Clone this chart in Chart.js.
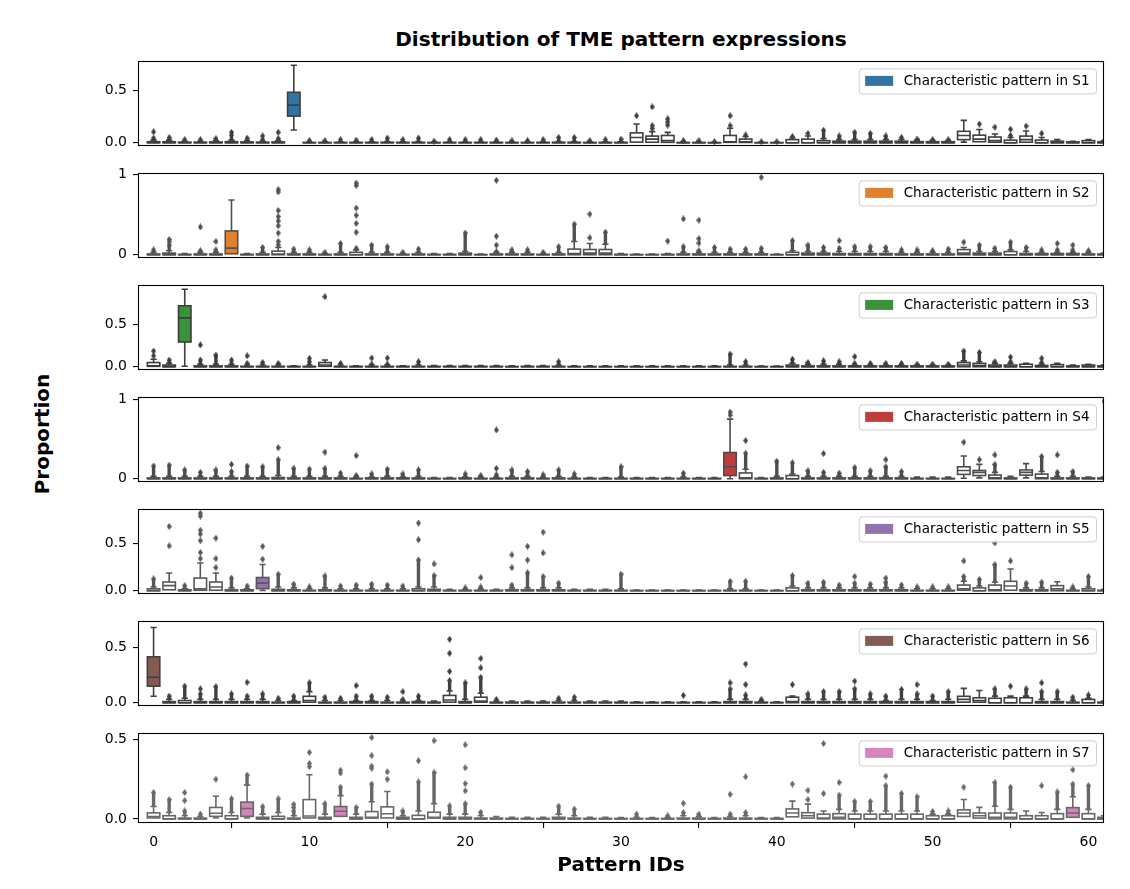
<!DOCTYPE html>
<html>
<head>
<meta charset="utf-8">
<script src="https://cdn.jsdelivr.net/npm/chart.js@4.4.0/dist/chart.umd.min.js"></script>
<style>
  body { margin: 0; background: #fff; }
  #fig { position: relative; width: 1130px; height: 889px; font-family: "DejaVu Sans", sans-serif; color: #000; }
  .panel { position: absolute; left: 0; width: 1130px; }
  #title { position: absolute; left: 0; width: 1242px; top: 27px; text-align: center; font-weight: bold; font-size: 20px; line-height: 24px; }
  #ylab { position: absolute; left: 42px; top: 434px; transform: translate(-50%, -50%) rotate(-90deg); font-weight: bold; font-size: 20px; white-space: nowrap; }
</style>
</head>
<body>
<div id="fig">
  <div id="title">Distribution of TME pattern expressions</div>
  <div id="ylab">Proportion</div>
</div>
<script>
// pattern ids shown on the x axis (the last one sits on the right edge)
const patternIds = Array.from({ length: 62 }, (_, i) => i);
const xTicks = [0, 10, 20, 30, 40, 50, 60];

const sampleNames = ['S1', 'S2', 'S3', 'S4', 'S5', 'S6', 'S7'];
const keyPatterns = [[9], [5], [2], [37], [7], [0], [6, 12, 59]];
const yRanges = [[-0.037, 0.782], [-0.048, 1.011], [-0.046, 0.970], [-0.049, 1.024],
                 [-0.041, 0.861], [-0.035, 0.735], [-0.026, 0.540]];
const yTicks = [[0, 0.5], [0, 1], [0, 0.5], [0, 1], [0, 0.5], [0, 0.5], [0, 0.5]];
const yDecimals = [1, 0, 1, 0, 1, 1, 1];

const fillColors = ['#3274a1', '#e1812c', '#3a923a', '#c03d3e', '#9372b2', '#845b53', '#d684bd'];
const lineColors = ['#3f3f3f', '#515151', '#3d3d3d', '#4c4c4c', '#585858', '#404040', '#686868'];

// ---- S1 ----
const q1S1 = {9: .256, 31: .006, 32: .005, 33: .004, 37: .004, 38: .003, 52: .03, 53: .01, 54: .005, 56: .005};
const medS1 = {9: .362, 31: .05, 32: .035, 33: .02, 37: .01, 38: .01, 52: .07, 53: .035, 54: .02, 56: .03};
const q3S1 = [
  .01,.01,.006,.006,.008,.01,.008,.006,.008,.485,
  .003,.003,.004,.004,.004,.005,.004,.005,.003,.004,
  .004,.004,.004,.003,.003,.004,.005,.005,.003,.004,
  .004,.095,.064,.07,.003,.003,.002,.07,.035,.002,
  .002,.03,.035,.02,.015,.015,.015,.015,.015,.01,
  .01,.01,.11,.073,.055,.025,.064,.026,.015,.008,
  .02,.01];
const hiS1 = [
  .025,.025,.015,.015,.02,.025,.02,.015,.02,.745,
  .008,.008,.01,.01,.01,.012,.01,.012,.006,.01,
  .01,.01,.01,.008,.008,.01,.012,.012,.008,.01,
  .01,.18,.107,.1,.008,.008,.005,.14,.06,.005,
  .005,.045,.065,.04,.03,.03,.03,.03,.03,.025,
  .02,.02,.215,.128,.084,.05,.113,.05,.03,.015,
  .03,.02];
const topS1 = [
  .045,.05,.03,.03,.04,.075,.045,.03,.04,0,
  .02,.02,.03,.025,.03,.045,.03,.045,.015,.03,
  .03,.03,.025,.02,.02,.03,.05,.05,.02,.03,
  .035,0,0,0,.02,.02,.01,0,0,.01,
  .01,.06,0,.12,.065,.1,.09,.065,.05,.035,
  .03,.03,0,0,0,.07,0,0,0,0,
  0,0];
const loS1 = {9: .122, 52: .006};
const outS1 = [[0,.105],[5,.1],[7,.065],[8,.1],[31,.26],[32,.137],[32,.165],[32,.345],[33,.17],[33,.2],
  [33,.23],[37,.165],[37,.26],[38,.075],[42,.09],[53,.18],[54,.15],[55,.13],[56,.16],[57,.09]];

// ---- S2 ----
const q1S2 = {5: .012};
const medS2 = {5: .082, 8: .01, 27: .015, 28: .02, 29: .02, 52: .02};
const q3S2 = [
  .01,.02,.005,.01,.01,.296,.005,.01,.045,.01,
  .01,.005,.01,.03,.01,.01,.005,.01,.005,.005,
  .02,.003,.01,.01,.01,.005,.01,.07,.065,.065,
  .005,.003,.003,.005,.01,.01,.01,.01,.01,.01,
  .003,.03,.02,.02,.015,.015,.015,.015,.01,.01,
  .01,.01,.064,.02,.02,.04,.015,.015,.015,.015,
  .01,.01];
const hiS2 = [
  .03,.05,.015,.03,.03,.68,.015,.03,.09,.03,
  .03,.015,.03,.06,.03,.03,.015,.03,.015,.015,
  .04,.008,.03,.03,.03,.015,.03,.165,.14,.13,
  .015,.008,.008,.015,.03,.03,.03,.03,.03,.03,
  .008,.05,.04,.04,.04,.04,.04,.04,.03,.03,
  .03,.03,.09,.04,.04,.06,.04,.03,.03,.03,
  .03,.02];
const topS2 = [
  .06,.12,0,.05,.06,0,0,.09,0,.07,
  .06,.03,.14,.08,.12,.1,.03,.07,0,0,
  .27,0,.04,.06,.06,.03,.1,.38,0,.28,
  0,0,0,0,.1,.05,.09,.07,.07,.08,
  0,.175,.12,.09,.08,.1,.1,.09,.06,.06,
  .05,.07,0,.12,.08,.157,.09,.06,.06,.06,
  .05,0];
const loS2 = {};
const outS2 = [[1,.16],[1,.19],[3,.345],[4,.165],[8,.12],[8,.165],[8,.27],[8,.36],[8,.42],[8,.475],
  [8,.55],[8,.78],[8,.81],[13,.28],[13,.39],[13,.49],[13,.58],[13,.86],[13,.89],[22,.12],[22,.23],
  [22,.925],[28,.21],[28,.505],[33,.17],[34,.445],[35,.145],[35,.2],[35,.43],[39,.963],[44,.175],
  [52,.157],[58,.14],[59,.12]];

// ---- S3 ----
const q1S3 = {0: .005, 2: .295, 11: .005};
const medS3 = {0: .01, 2: .583, 11: .02, 52: .02, 53: .015};
const q3S3 = [
  .05,.02,.727,.01,.01,.01,.005,.005,.005,.005,
  .005,.05,.005,.005,.005,.005,.005,.005,.005,.005,
  .005,.005,.005,.003,.005,.005,.005,.003,.003,.003,
  .003,.003,.003,.003,.003,.003,.003,.005,.005,.003,
  .003,.02,.01,.01,.01,.01,.01,.01,.01,.01,
  .01,.01,.05,.04,.02,.02,.03,.015,.025,.01,
  .02,.01];
const hiS3 = [
  .09,.04,.924,.03,.03,.03,.02,.02,.02,.01,
  .02,.08,.02,.01,.02,.02,.01,.02,.015,.015,
  .015,.015,.015,.01,.015,.015,.02,.01,.01,.01,
  .01,.01,.01,.01,.01,.01,.01,.02,.02,.008,
  .008,.04,.03,.03,.03,.02,.02,.02,.02,.02,
  .02,.02,.07,.06,.04,.04,.04,.03,.04,.02,
  .03,.02];
const topS3 = [
  0,.08,0,.08,.14,.08,.04,.05,.04,0,
  .06,0,.04,0,.03,.03,0,.06,0,0,
  0,0,0,0,0,0,.06,0,0,0,
  0,0,0,0,0,0,0,.15,.06,0,
  0,.09,.05,.07,.06,.04,.04,.04,.04,.03,
  .03,.03,.187,.17,.06,.06,0,.05,0,0,
  0,0];
const loS3 = {2: .005};
const outS3 = [[0,.13],[0,.187],[3,.26],[6,.13],[10,.1],[11,.835],[14,.104],[15,.104],[45,.12],
  [55,.115],[57,.1]];

// ---- S4 ----
const q1S4 = {37: .04, 52: .054, 53: .04, 56: .045};
const medS4 = {37: .15, 38: .01, 52: .104, 53: .08, 54: .01, 56: .08, 57: .01};
const q3S4 = [
  .01,.01,.01,.01,.01,.01,.01,.01,.015,.01,
  .01,.01,.01,.005,.01,.01,.01,.01,.005,.005,
  .01,.005,.005,.01,.01,.005,.01,.005,.005,.005,
  .005,.005,.005,.005,.005,.005,.005,.33,.073,.005,
  .01,.04,.01,.01,.01,.01,.01,.01,.01,.005,
  .005,.005,.15,.104,.046,.01,.11,.058,.01,.01,
  .01,.01];
const hiS4 = [
  .03,.03,.03,.03,.03,.03,.03,.03,.04,.03,
  .03,.03,.03,.02,.02,.03,.02,.03,.015,.015,
  .02,.02,.02,.03,.03,.02,.03,.02,.015,.015,
  .02,.015,.015,.015,.02,.015,.015,.75,.12,.015,
  .03,.06,.03,.03,.03,.03,.03,.03,.03,.02,
  .02,.02,.286,.18,.08,.03,.19,.09,.03,.03,
  .02,.02];
const topS4 = [
  .16,.17,.11,.08,.11,.09,.16,.15,.24,.13,
  .12,.13,.07,.04,.06,.12,.06,.11,0,0,
  .06,.04,.05,.11,.09,.05,.11,.06,0,0,
  .15,0,0,0,.07,0,0,0,.32,0,
  .22,.2,.1,.08,.07,.14,.1,.15,.09,0,
  0,0,0,0,.18,0,0,.28,.08,.09,
  0,0];
const loS4 = {37: 0, 52: .005, 53: .01, 56: .01};
const outS4 = [[5,.18],[8,.39],[11,.335],[13,.29],[22,.13],[22,.614],[37,.8],[37,.84],[38,.48],
  [43,.317],[47,.24],[52,.46],[53,.24],[54,.3],[58,.3],[61,.975]];

// ---- S5 ----
const q1S5 = {1: .01, 3: .005, 4: .005, 7: .022, 52: .005, 55: .005};
const medS5 = {1: .054, 3: .02, 4: .04, 7: .08, 52: .02, 54: .01, 55: .05, 58: .02};
const q3S5 = [
  .02,.092,.01,.134,.092,.01,.01,.14,.015,.01,
  .005,.01,.005,.005,.005,.005,.005,.02,.015,.005,
  .005,.005,.005,.01,.01,.01,.01,.005,.005,.005,
  .005,.003,.003,.003,.003,.003,.003,.005,.005,.003,
  .003,.03,.01,.01,.01,.01,.01,.01,.01,.005,
  .005,.005,.06,.03,.06,.1,.01,.01,.054,.005,
  .02,.005];
const hiS5 = [
  .04,.188,.02,.293,.188,.03,.02,.277,.04,.03,
  .02,.03,.02,.02,.02,.02,.02,.04,.04,.015,
  .015,.02,.015,.03,.03,.03,.03,.015,.015,.015,
  .02,.008,.008,.008,.008,.008,.008,.02,.02,.008,
  .008,.05,.03,.03,.03,.03,.03,.03,.03,.02,
  .02,.02,.1,.05,.09,.23,.03,.03,.095,.02,
  .04,.015];
const topS5 = [
  .125,0,.054,0,0,.134,.05,0,.175,.07,
  .04,.156,.05,.06,.07,.06,.05,.325,.16,0,
  .03,.04,0,.06,.19,.15,.08,0,0,0,
  .175,0,0,0,0,0,0,.1,.1,0,
  0,.16,.08,.09,.06,.08,.07,.09,.06,.04,
  .04,.04,.15,.12,.277,0,.08,.09,0,.04,
  .15,0];
const loS5 = {7: .002};
const outS5 = [[1,.475],[1,.68],[3,.34],[3,.405],[3,.53],[3,.6],[3,.64],[3,.79],[3,.82],[4,.245],
  [4,.34],[4,.557],[7,.334],[7,.47],[17,.54],[17,.717],[18,.283],[21,.14],[23,.245],[23,.38],
  [24,.325],[24,.47],[25,.4],[25,.62],[45,.15],[47,.134],[52,.315],[54,.506],[55,.315]];

// ---- S6 ----
const q1S6 = {0: .15, 10: .005, 19: .005, 21: .005, 52: .005, 53: .005};
const medS6 = {0: .23, 10: .02, 19: .025, 21: .015, 41: .01, 52: .03, 53: .02};
const q3S6 = [
  .415,.01,.02,.01,.01,.01,.01,.01,.005,.01,
  .058,.005,.005,.01,.01,.005,.005,.01,.005,.066,
  .01,.05,.005,.005,.005,.005,.005,.005,.005,.005,
  .005,.003,.003,.003,.003,.003,.003,.01,.01,.005,
  .003,.05,.01,.01,.01,.01,.01,.01,.01,.01,
  .01,.01,.058,.045,.04,.045,.045,.01,.01,.005,
  .03,.005];
const hiS6 = [
  .68,.03,.04,.03,.03,.03,.03,.03,.02,.02,
  .1,.02,.02,.02,.02,.02,.015,.02,.015,.106,
  .03,.085,.015,.015,.015,.015,.02,.02,.015,.015,
  .015,.008,.008,.008,.008,.008,.008,.03,.03,.015,
  .008,.06,.03,.03,.03,.03,.03,.02,.03,.03,
  .02,.03,.13,.11,.06,.06,.06,.03,.03,.02,
  .04,.015];
const topS6 = [
  0,.06,.15,.08,.145,.08,.06,.08,.04,.06,
  .18,.05,.04,.06,.06,.05,.03,.06,0,.2,
  .18,.23,.03,0,0,0,.04,.05,0,0,
  0,0,0,0,0,0,0,.125,.07,.03,
  0,0,.08,.1,.1,.125,.08,.06,.12,.08,
  .06,.1,0,0,.125,0,.125,.1,.1,.05,
  .07,0];
const loS6 = {0: .058};
const outS6 = [[3,.125],[6,.185],[13,.155],[16,.1],[19,.283],[19,.447],[19,.574],[21,.315],[21,.4],
  [34,.066],[37,.18],[38,.164],[38,.35],[41,.164],[45,.195],[49,.164],[55,.15],[57,.18]];

// ---- S7 ----
const q1S7 = {0: .006, 4: .016, 6: .016, 10: .006, 12: .016, 14: .005, 15: .006, 18: .005, 41: .013,
  42: .005, 52: .015, 53: .005, 59: .01};
const medS7 = {0: .015, 4: .036, 6: .066, 10: .018, 12: .048, 14: .01, 15: .032, 18: .01, 41: .037,
  42: .02, 43: .005, 44: .01, 52: .037, 53: .02, 54: .01, 55: .01, 59: .037};
const q3S7 = [
  .038,.02,.005,.005,.072,.02,.106,.01,.016,.005,
  .122,.01,.078,.01,.046,.076,.01,.022,.042,.01,
  .01,.005,.005,.003,.003,.003,.01,.005,.003,.003,
  .003,.003,.003,.003,.005,.005,.003,.005,.005,.003,
  .003,.063,.039,.03,.033,.03,.03,.03,.03,.03,
  .02,.02,.057,.037,.037,.037,.02,.02,.033,.071,
  .033,.01];
const hiS7 = [
  .078,.04,.02,.015,.143,.04,.213,.03,.04,.02,
  .279,.03,.147,.03,.108,.173,.02,.05,.096,.03,
  .03,.02,.015,.01,.01,.01,.03,.02,.01,.01,
  .008,.01,.008,.01,.02,.015,.008,.015,.02,.008,
  .008,.112,.093,.05,.06,.05,.05,.05,.05,.05,
  .03,.03,.122,.073,.08,.06,.05,.04,.06,.14,
  .06,.02];
const topS7 = [
  .167,.122,.05,.03,0,.127,.277,.078,.127,.05,
  0,.096,.2,.072,.22,0,.05,.233,.293,.082,
  .096,.042,0,0,0,0,.08,.062,0,0,
  0,.03,0,.02,.04,.03,0,.03,.04,0,
  0,0,0,0,.15,.11,.11,.21,.16,.14,
  .047,.05,0,0,.23,.2,0,0,.17,.22,
  .21,0];
const loS7 = {4: .006, 6: .006};
const outS7 = [[2,.116],[2,.167],[4,.25],[9,.072],[9,.092],[10,.33],[10,.35],[10,.42],[12,.29],[12,.307],
  [14,.32],[14,.333],[14,.4],[14,.514],[15,.25],[15,.297],[17,.367],[18,.494],[20,.177],[20,.223],
  [20,.323],[20,.468],[34,.098],[37,.155],[38,.266],[41,.22],[42,.122],[42,.18],[43,.16],[43,.476],
  [44,.23],[47,.27],[52,.2],[57,.21],[59,.31]];

const Q1 = [q1S1, q1S2, q1S3, q1S4, q1S5, q1S6, q1S7];
const MED = [medS1, medS2, medS3, medS4, medS5, medS6, medS7];
const Q3 = [q3S1, q3S2, q3S3, q3S4, q3S5, q3S6, q3S7];
const HI = [hiS1, hiS2, hiS3, hiS4, hiS5, hiS6, hiS7];
const TOP = [topS1, topS2, topS3, topS4, topS5, topS6, topS7];
const LO = [loS1, loS2, loS3, loS4, loS5, loS6, loS7];
const OUT = [outS1, outS2, outS3, outS4, outS5, outS6, outS7];

Chart.defaults.font.family = '"DejaVu Sans", sans-serif';
Chart.defaults.color = '#000';

const panelTops = [57, 169, 281, 393, 505, 617, 729];
const panelH = 94;

function diamondImage(color) {
  const c = document.createElement('canvas');
  c.width = 5; c.height = 7;
  const g = c.getContext('2d');
  g.fillStyle = color;
  g.beginPath();
  g.moveTo(2.5, 0); g.lineTo(5, 3.5); g.lineTo(2.5, 7); g.lineTo(0, 3.5);
  g.closePath(); g.fill();
  return c;
}

// whiskers, medians, outlines, frame and legend
const boxDetails = {
  id: 'boxDetails',
  afterDatasetDraw(chart, args, opts) {
    if (args.meta.type !== 'bar') return;
    const k = opts.panel;
    const { ctx, chartArea: a } = chart;
    const y = chart.scales.y;
    ctx.save();
    ctx.beginPath();
    ctx.rect(a.left, a.top, a.width, a.height);
    ctx.clip();
    ctx.strokeStyle = lineColors[k];
    ctx.lineCap = 'butt';
    args.meta.data.forEach((bar, c) => {
      const { x, width } = bar.getProps(['x', 'width'], true);
      const half = width / 2, cap = width / 4;
      const q1 = Q1[k][c] || 0, q3 = Q3[k][c], med = MED[k][c] || 0, hi = HI[k][c];
      const lo = LO[k][c] !== undefined ? LO[k][c] : q1;
      const top = TOP[k][c];
      const py = v => y.getPixelForValue(v);
      if (top > hi) {
        ctx.lineWidth = 3.4;
        ctx.beginPath(); ctx.moveTo(x, py(hi)); ctx.lineTo(x, py(top)); ctx.stroke();
      }
      ctx.lineWidth = 1.6;
      ctx.beginPath();
      ctx.moveTo(x, py(q3)); ctx.lineTo(x, py(hi));
      ctx.moveTo(x - cap, py(hi)); ctx.lineTo(x + cap, py(hi));
      if (lo < q1) {
        ctx.moveTo(x, py(q1)); ctx.lineTo(x, py(lo));
        ctx.moveTo(x - cap, py(lo)); ctx.lineTo(x + cap, py(lo));
      }
      ctx.stroke();
      ctx.strokeRect(x - half, py(q3), width, py(q1) - py(q3));
      ctx.beginPath();
      ctx.moveTo(x - half, py(med)); ctx.lineTo(x + half, py(med));
      ctx.stroke();
    });
    ctx.restore();
  },
  afterDraw(chart, args, opts) {
    const k = opts.panel;
    const { ctx, chartArea: a } = chart;
    ctx.save();
    // frame
    ctx.strokeStyle = '#000';
    ctx.lineWidth = 1.1;
    ctx.strokeRect(Math.round(a.left) + 0.5, Math.round(a.top) + 0.5,
      Math.round(a.width) - 1, Math.round(a.height) - 1);
    // legend
    const label = 'Characteristic pattern in ' + sampleNames[k];
    ctx.font = '13.5px "DejaVu Sans"';
    const tw = ctx.measureText(label).width;
    const pad = 6.5, handle = 28, gap = 10.5, h = 25;
    const w = pad * 2 + handle + gap + tw;
    const bx = a.right - 8 - w, by = a.top + 7;
    ctx.fillStyle = 'rgba(255,255,255,0.8)';
    ctx.strokeStyle = '#d0d0d0';
    ctx.lineWidth = 1;
    ctx.beginPath();
    ctx.roundRect(bx + 0.5, by + 0.5, w, h, 3);
    ctx.fill(); ctx.stroke();
    ctx.fillStyle = fillColors[k];
    ctx.fillRect(bx + pad, by + h / 2 - 5, handle, 10);
    ctx.fillStyle = '#000';
    ctx.textBaseline = 'middle';
    ctx.fillText(label, bx + pad + handle + gap, by + h / 2 + 1);
    ctx.restore();
  }
};

function makePanel(k) {
  const last = k === 6;
  const holder = document.createElement('div');
  holder.className = 'panel';
  holder.style.top = (panelTops[k] - 10) + 'px';
  holder.style.height = (last ? 889 - (panelTops[k] - 10) : panelH + 20) + 'px';
  const canvas = document.createElement('canvas');
  holder.appendChild(canvas);
  document.getElementById('fig').appendChild(holder);

  const boxes = patternIds.map(c => ({ x: c, y: [Q1[k][c] || 0, Q3[k][c]] }));
  const fliers = [];
  patternIds.forEach(c => { if (TOP[k][c] > HI[k][c]) fliers.push({ x: c, y: TOP[k][c] }); });
  OUT[k].forEach(([c, v]) => fliers.push({ x: c, y: v }));
  const faces = patternIds.map(c => keyPatterns[k].includes(c) ? fillColors[k] : '#ffffff');

  new Chart(canvas, {
    type: 'bar',
    data: {
      datasets: [
        { type: 'scatter', data: fliers, pointStyle: diamondImage(lineColors[k]), pointRadius: 3,
          clip: 0, order: 0 },
        { type: 'bar', data: boxes, backgroundColor: faces, borderWidth: 0,
          barPercentage: 0.8, categoryPercentage: 1, clip: 0, order: 1 }
      ]
    },
    options: {
      responsive: true,
      maintainAspectRatio: false,
      animation: false,
      events: [],
      layout: { padding: { left: 0, right: 26, top: 10, bottom: last ? 0 : 10 } },
      plugins: {
        legend: { display: false },
        tooltip: { enabled: false },
        boxDetails: { panel: k }
      },
      scales: {
        x: {
          type: 'linear', min: -1, max: 61, offset: false, display: last,
          afterBuildTicks: s => { s.ticks = xTicks.map(v => ({ value: v })); },
          afterFit: s => { if (last) s.height = 66; },
          grid: { drawOnChartArea: false, drawTicks: true, tickLength: 5, color: '#000', lineWidth: 1.1 },
          border: { display: false },
          ticks: { font: { size: 14 }, color: '#000', padding: 6, maxRotation: 0, autoSkip: false },
          title: { display: true, text: 'Pattern IDs', color: '#000',
                   font: { size: 20, weight: 'bold' }, padding: { top: 0, bottom: 11 } }
        },
        y: {
          type: 'linear', min: yRanges[k][0], max: yRanges[k][1],
          afterBuildTicks: s => { s.ticks = yTicks[k].map(v => ({ value: v })); },
          afterFit: s => { s.width = 138; },
          grid: { drawOnChartArea: false, drawTicks: true, tickLength: 5, color: '#000', lineWidth: 1.1 },
          border: { display: false },
          ticks: { font: { size: 14 }, color: '#000', padding: 6,
                   callback: v => Number(v).toFixed(yDecimals[k]) }
        }
      }
    },
    plugins: [boxDetails]
  });
}

for (let k = 0; k < 7; k++) makePanel(k);
</script>
</body>
</html>
